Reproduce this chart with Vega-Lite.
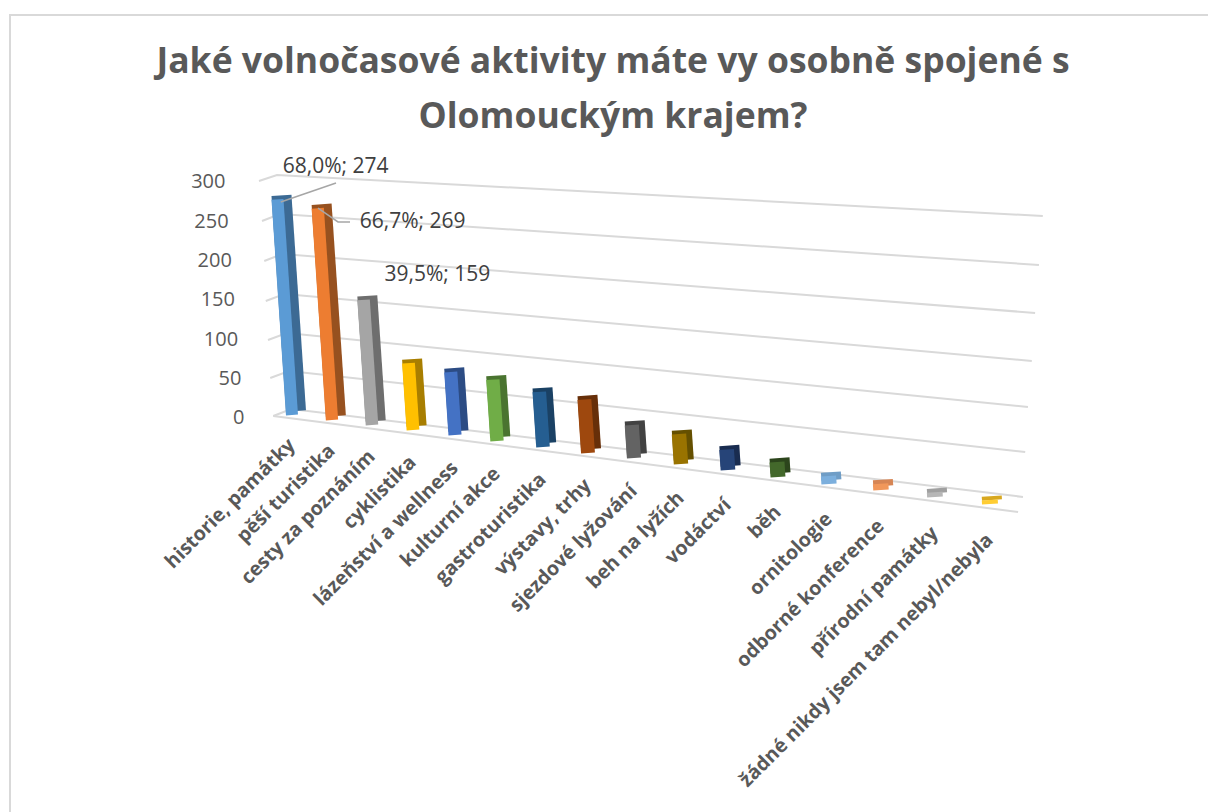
{
"$schema":"https://vega.github.io/schema/vega-lite/v6.json",
"autosize":{"type":"none"},
"padding":{"left":10,"top":15,"right":0,"bottom":0},
"width":1210,"height":800,
"background":"white",
"view":{"stroke":"#d9d9d9","strokeWidth":2},
"title":{"text":["Jaké volnočasové aktivity máte vy osobně spojené s","Olomouckým krajem?"],"font":"Open Sans","fontSize":35.5,"fontWeight":"bold","color":"#595959","lineHeight":55,"anchor":"middle","dx":-2,"dy":120,"offset":0},
"datasets":{
"bars":[
{"activity":"historie, památky","index":0,"value":274},
{"activity":"pěší turistika","index":1,"value":269},
{"activity":"cesty za poznáním","index":2,"value":159},
{"activity":"cyklistika","index":3,"value":85},
{"activity":"lázeňství a wellness","index":4,"value":80},
{"activity":"kulturní akce","index":5,"value":78},
{"activity":"gastroturistika","index":6,"value":70},
{"activity":"výstavy, trhy","index":7,"value":68},
{"activity":"sjezdové lyžování","index":8,"value":42},
{"activity":"beh na lyžích","index":9,"value":38},
{"activity":"vodáctví","index":10,"value":26},
{"activity":"běh","index":11,"value":19},
{"activity":"ornitologie","index":12,"value":10},
{"activity":"odborné konference","index":13,"value":8},
{"activity":"přírodní památky","index":14,"value":6},
{"activity":"žádné nikdy jsem tam nebyl/nebyla","index":15,"value":5}
],
"grid":[
{"grid":"300","step":1,"at":-1.1,"level":298.6},{"grid":"300","step":2,"at":-0.5,"level":306.2},{"grid":"300","step":3,"at":15.96,"level":254.1},
{"grid":"250","step":1,"at":-1.0,"level":247.8},{"grid":"250","step":2,"at":-0.4,"level":256.7},{"grid":"250","step":3,"at":15.89,"level":191.9},
{"grid":"200","step":1,"at":-0.925,"level":197},{"grid":"200","step":2,"at":-0.325,"level":205.8},{"grid":"200","step":3,"at":15.82,"level":130.9},
{"grid":"150","step":1,"at":-0.875,"level":146.1},{"grid":"150","step":2,"at":-0.25,"level":155},{"grid":"150","step":3,"at":15.76,"level":69.9},
{"grid":"100","step":1,"at":-0.8,"level":96.6},{"grid":"100","step":2,"at":-0.175,"level":105.5},{"grid":"100","step":3,"at":15.69,"level":11.4},
{"grid":"50","step":1,"at":-0.725,"level":48.3},{"grid":"50","step":2,"at":-0.1,"level":57.2},{"grid":"50","step":3,"at":15.64,"level":-45.7},
{"grid":"0","step":1,"at":-0.625,"level":0},{"grid":"0","step":2,"at":-0.025,"level":8.9},{"grid":"0","step":3,"at":15.6,"level":-102.9},
{"grid":"floor","step":1,"at":-0.625,"level":0},{"grid":"floor","step":2,"at":15.51,"level":-122}
],
"leaders":[
{"leader":"a","step":1,"at":-0.375,"level":272},{"leader":"a","step":2,"at":1.1,"level":296},
{"leader":"b","step":1,"at":0.65,"level":264},{"leader":"b","step":2,"at":1.15,"level":246.5},{"leader":"b","step":3,"at":1.45,"level":246.5}
],
"callouts":[
{"text":"68,0%; 274","at":1.09,"level":317},
{"text":"66,7%; 269","at":2.99,"level":246.5},
{"text":"39,5%; 159","at":3.58,"level":179}
]
},
"layer":[
{"data":{"name":"grid"},
 "mark":{"type":"line","stroke":"#d9d9d9","strokeWidth":2,"interpolate":"linear"},
 "encoding":{
  "x":{"field":"at","type":"quantitative","scale":{"domain":[-3,0,1,2,3,4,5,6,7,8,9,10,11,12,13,14,15,16,17],"range":[162,282,322,362,403,445,487,533,578,624,671,718,768,819,871,925,980,1035,1090]},"axis":null},
  "y":{"field":"level","type":"quantitative","scale":{"domain":[-507,509.5],"range":[800,0],"zero":false,"nice":false},"axis":{"title":null,"values":[0,50,100,150,200,250,300],"domain":false,"ticks":false,"grid":false,"offset":-236,"labelFont":"Open Sans","labelFontSize":20,"labelColor":"#595959","labelOffset":2,"labelPadding":{"expr":"2+datum.value*19/300"}}},
  "detail":{"field":"grid"},
  "order":{"field":"step"}
 }},
{"data":{"name":"bars"},
 "mark":{"type":"rule","strokeCap":"butt","xOffset":{"expr":"4-datum.index*2/15-datum.value*0.053"},"x2Offset":{"expr":"4-datum.index*2/15"},"yOffset":{"expr":"[-5,0,5,10,15,21,27,33,38,44,50,57,64,70,77,84][datum.index]"},"y2Offset":{"expr":"[-5,0,5,10,15,21,27,33,38,44,50,57,64,70,77,84][datum.index]"}},
 "encoding":{
  "x":{"field":"index","type":"quantitative"},
  "x2":{"field":"index"},
  "y":{"field":"value","type":"quantitative"},
  "y2":{"datum":0},
  "size":{"value":20},
  "color":{"field":"activity","type":"nominal","sort":null,"legend":null,"scale":{"range":["#3C6A94","#97511F","#6E6E6E","#A87E00","#2C4C84","#4A7430","#1A4164","#672F09","#424242","#655000","#192C50","#2C451C","#6F9DC6","#D68554","#A0A0A0","#D8A820"]}}
 }},
{"data":{"name":"bars"},
 "mark":{"type":"rule","strokeCap":"butt","xOffset":{"expr":"-datum.value*0.053"},"yOffset":{"expr":"[-1,4,9,14,19,25,31,37,42,48,54,61,68,74,81,88][datum.index]"},"y2Offset":{"expr":"[-1,4,9,14,19,25,31,37,42,48,54,61,68,74,81,88][datum.index]"}},
 "encoding":{
  "x":{"field":"index","type":"quantitative"},
  "x2":{"field":"index"},
  "y":{"field":"value","type":"quantitative"},
  "y2":{"datum":0},
  "size":{"field":"index","type":"quantitative","legend":null,"scale":{"domain":[0,15],"range":[12,16],"zero":false}},
  "color":{"field":"activity","type":"nominal","sort":null,"legend":null,"scale":{"range":["#5B9BD5","#ED7D31","#A5A5A5","#FFC000","#4472C4","#70AD47","#255E91","#9E480E","#636363","#997300","#264478","#43682B","#7CAFDD","#F1975A","#B7B7B7","#FFCD33"]}}
 }},
{"data":{"name":"leaders"},
 "mark":{"type":"line","stroke":"#a6a6a6","strokeWidth":1.5},
 "encoding":{
  "x":{"field":"at","type":"quantitative"},
  "y":{"field":"level","type":"quantitative"},
  "detail":{"field":"leader"},
  "order":{"field":"step"}
 }},
{"data":{"name":"callouts"},
 "mark":{"type":"text","font":"Open Sans","fontSize":21,"color":"#404040","align":"center","baseline":"middle"},
 "encoding":{
  "x":{"field":"at","type":"quantitative"},
  "y":{"field":"level","type":"quantitative"},
  "text":{"field":"text"}
 }},
{"data":{"name":"bars"},
 "mark":{"type":"text","font":"Open Sans","fontSize":19.7,"fontWeight":"bold","color":"#595959","align":"right","baseline":"middle","angle":315},
 "encoding":{
  "x":{"field":"index","type":"quantitative"},
  "y":{"datum":0},
  "xOffset":{"field":"index","type":"quantitative","scale":{"domain":[0,15],"range":[0,15]}},
  "yOffset":{"field":"index","type":"quantitative","scale":{"domain":[0,8,15],"range":[26,72,121]}},
  "text":{"field":"activity"}
 }}
],
"resolve":{"scale":{"color":"independent","size":"independent","xOffset":"independent","yOffset":"independent"}}
}
